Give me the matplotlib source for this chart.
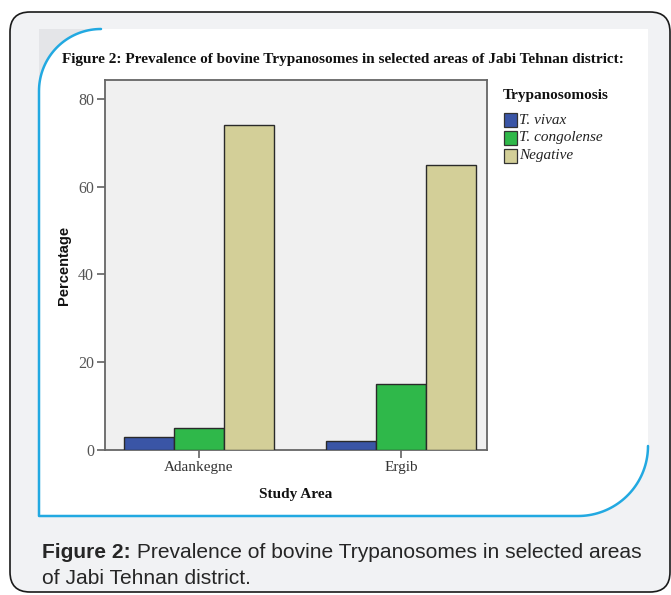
import numpy as np
import matplotlib
matplotlib.use("Agg")
import matplotlib.pyplot as plt
from matplotlib.path import Path
from matplotlib.patches import PathPatch, FancyBboxPatch, Rectangle

# ---- data ----
areas = ["Adankegne", "Ergib"]
series_names = ["T. vivax", "T. congolense", "Negative"]
vivax = [3, 2]
congolense = [5, 15]
negative = [74, 65]
y_ticks = [0, 20, 40, 60, 80]
colors = ["#3a55a6", "#2fb84a", "#d3cf98"]

W, H = 671, 595
fig = plt.figure(figsize=(W / 100, H / 100), dpi=100)
fig.patch.set_facecolor("white")

# background drawing axes in pixel coordinates
bg = fig.add_axes([0, 0, 1, 1], zorder=0)
bg.set_xlim(0, W)
bg.set_ylim(H, 0)
bg.axis("off")

outer = FancyBboxPatch((10, 12), 660, 580, boxstyle="round,pad=0,rounding_size=20",
                       facecolor="#f1f2f4", edgecolor="#1a1a1a", lw=1.2)
bg.add_patch(outer)

def arc(cx, cy, r, a0, a1, n=40):
    t = np.radians(np.linspace(a0, a1, n))
    return np.column_stack([cx + r * np.cos(t), cy + r * np.sin(t)])

L, R, T, B = 39, 648, 29, 516
r1, r2 = 62, 70
tl = arc(L + r1, T + r1, r1, 180, 270)
br = arc(R - r2, B - r2, r2, 0, 90)
verts = np.vstack([tl, [[R, T]], br, [[L, B]], tl[:1]])
# soft shade in the top-left corner behind the curve
bg.add_patch(PathPatch(Path(np.vstack([[[L + r1, T]], [[L, T]], [[L, T + r1]], tl])),
                       facecolor="#e4e5e8", edgecolor="none"))
bg.add_patch(PathPatch(Path(verts), facecolor="white", edgecolor="none"))
# blue border
blue = np.vstack([tl[::-1], [[L, B]], br[::-1]])
bg.plot(blue[:, 0], blue[:, 1], color="#22a9e1", lw=1.8, solid_capstyle="round")

# title inside image
bg.text(343, 60, "Figure 2: Prevalence of bovine Trypanosomes in selected areas of Jabi Tehnan district:",
        family="Liberation Serif", weight="bold", fontsize=11.0, ha="center", va="center", color="#111")

# caption
cap1 = bg.text(42, 552, "Figure 2:", family="Liberation Sans", weight="bold", fontsize=15.1,
               ha="left", va="center", color="#262626")
bg.annotate(" Prevalence of bovine Trypanosomes in selected areas", xy=(1, 0.5), xycoords=cap1,
            family="Liberation Sans", fontsize=15.1, ha="left", va="center", color="#262626")
bg.text(42, 578, "of Jabi Tehnan district.", family="Liberation Sans", fontsize=15.1,
        ha="left", va="center", color="#262626")

# ---- chart ----
px_l, px_r, px_t, px_b = 105, 487, 80, 450
ax = fig.add_axes([px_l / W, 1 - px_b / H, (px_r - px_l) / W, (px_b - px_t) / H], zorder=2)
ax.set_facecolor("#f0f0f0")
x = np.arange(len(areas))
bw = 0.248
for i, (vals, c) in enumerate(zip([vivax, congolense, negative], colors)):
    ax.bar(x + (i - 1) * bw, vals, width=bw, color=c, edgecolor="#2a2a2a", lw=1.0, zorder=3)

ax.set_xlim(-0.465, 1.425)
ax.set_ylim(0, 84.3)
ax.set_yticks(y_ticks)
ax.set_yticklabels([str(v) for v in y_ticks], family="Liberation Serif", fontsize=11.5, color="#555")
ax.set_xticks(x)
ax.set_xticklabels(areas, family="Liberation Serif", fontsize=11, color="#333")
ax.tick_params(axis="both", direction="out", length=6, width=1.1, color="#555", pad=2)
for s in ax.spines.values():
    s.set_color("#666")
    s.set_linewidth(1.3)
ax.set_xlabel("Study Area", family="Liberation Serif", weight="bold", fontsize=11, color="#111", labelpad=10)
ax.set_ylabel("Percentage", family="Liberation Sans", weight="bold", fontsize=10.5, color="#111", labelpad=5)

# legend
bg.text(503, 96, "Trypanosomosis", family="Liberation Serif", weight="bold", fontsize=11,
        ha="left", va="center", color="#111")
for i, (name, c) in enumerate(zip(series_names, colors)):
    y0 = 113 + i * 18
    bg.add_patch(Rectangle((504, y0), 13, 14, facecolor=c, edgecolor="#333", lw=0.9))
    bg.text(519, y0 + 7, name, family="Liberation Serif", style="italic", fontsize=11,
            ha="left", va="center", color="#222")

fig.savefig("out.png", dpi=100)
